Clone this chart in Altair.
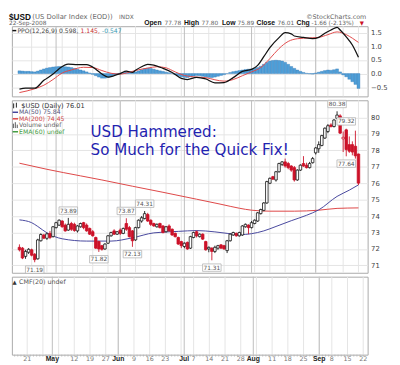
import altair as alt
import pandas as pd

# ---------------- data ----------------
opens = [72.10, 72.05, 71.55, 71.80, 71.95, 71.68, 71.40, 72.50, 72.85, 72.65,
         72.95, 72.75, 73.30, 73.45, 73.70, 73.45, 73.15, 73.55, 73.50, 73.10,
         73.35, 73.60, 73.45, 73.25, 73.05, 72.70, 72.45, 72.20, 72.00, 72.35,
         72.80, 73.10, 72.90, 73.15, 72.95, 73.55, 73.30, 73.10, 72.55, 73.30,
         73.70, 73.85, 74.10, 73.75, 73.55, 73.35, 73.55, 73.40, 73.05, 73.40,
         73.20, 72.95, 72.70, 72.45, 72.15, 72.40, 72.05, 72.70, 73.05, 72.75,
         72.90, 72.45, 72.00, 72.05, 71.85, 72.05, 72.25, 72.20, 71.90, 72.50,
         72.85, 72.95, 72.80, 72.85, 73.35, 73.45, 73.30, 73.55, 73.70, 74.15,
         74.35, 74.80, 76.00, 76.40, 76.20, 76.70, 77.15, 77.30, 77.20, 77.05,
         76.95, 76.20, 76.80, 77.20, 77.10, 76.95, 77.25, 77.85, 78.10, 78.30,
         78.75, 79.15, 79.55, 79.45, 79.95, 80.10, 78.70, 79.25, 78.35, 78.35,
         78.25, 77.78]
highs = [72.28, 72.12, 71.95, 72.05, 72.02, 71.75, 72.62, 72.95, 72.92, 73.00,
         73.10, 73.40, 73.65, 73.80, 73.75, 73.55, 73.89, 73.65, 73.60, 73.45,
         73.60, 73.65, 73.55, 73.30, 73.15, 72.75, 72.50, 72.25, 72.35, 72.85,
         73.05, 73.20, 73.08, 73.25, 73.30, 73.87, 73.40, 73.15, 73.35, 73.80,
         74.00, 74.31, 74.20, 73.80, 73.60, 73.55, 73.60, 73.45, 73.40, 73.50,
         73.25, 73.00, 72.75, 72.50, 72.40, 72.45, 72.80, 73.05, 73.12, 72.95,
         72.95, 72.50, 72.15, 72.10, 72.20, 72.25, 72.30, 72.25, 72.55, 72.95,
         73.05, 73.00, 73.05, 73.45, 73.55, 73.50, 73.70, 73.80, 74.25, 74.45,
         74.85, 76.15, 76.35, 76.45, 76.75, 77.25, 77.35, 77.50, 77.30, 77.10,
         77.05, 76.85, 77.15, 77.65, 77.25, 77.30, 77.60, 78.20, 78.55, 78.95,
         79.40, 79.60, 79.65, 79.90, 80.38, 80.20, 79.15, 79.32, 78.85, 78.55,
         79.20, 77.80]
lows = [71.85, 71.38, 71.40, 71.70, 71.55, 71.19, 71.35, 72.45, 72.60, 72.55,
        72.60, 72.70, 73.25, 73.40, 73.30, 73.05, 73.10, 73.10, 73.05, 73.00,
        73.30, 73.20, 73.05, 72.85, 72.75, 72.00, 71.82, 71.90, 71.95, 72.30,
        72.75, 72.85, 72.85, 72.85, 72.90, 73.10, 72.70, 72.13, 72.50, 73.25,
        73.60, 73.80, 73.65, 73.40, 73.35, 73.30, 73.25, 72.95, 73.00, 73.05,
        72.80, 72.70, 72.25, 72.05, 72.05, 71.95, 72.00, 72.65, 72.70, 72.70,
        72.55, 71.90, 71.80, 71.31, 71.75, 71.95, 72.00, 71.95, 71.75, 72.45,
        72.80, 72.75, 72.75, 72.80, 73.30, 72.90, 73.25, 73.50, 73.65, 74.10,
        74.30, 74.75, 75.95, 76.20, 76.10, 76.65, 77.05, 76.95, 76.85, 76.70,
        76.10, 76.15, 76.75, 77.00, 76.90, 76.90, 77.20, 77.75, 77.85, 78.25,
        78.70, 79.05, 79.40, 79.40, 79.90, 79.00, 77.90, 77.64, 77.85, 77.70,
        77.50, 75.89]
closes = [71.95, 71.45, 71.85, 71.98, 71.62, 71.35, 72.55, 72.88, 72.66, 72.92,
          72.70, 73.35, 73.60, 73.75, 73.35, 73.10, 73.50, 73.20, 73.12, 73.40,
          73.55, 73.30, 73.10, 72.90, 72.80, 72.05, 72.00, 71.98, 72.30, 72.80,
          73.00, 72.90, 73.05, 72.95, 73.25, 73.20, 72.75, 72.50, 73.30, 73.75,
          73.90, 74.15, 73.70, 73.50, 73.40, 73.50, 73.30, 73.00, 73.35, 73.10,
          72.85, 72.75, 72.30, 72.20, 72.35, 72.00, 72.75, 73.00, 72.80, 72.90,
          72.60, 71.95, 72.10, 71.85, 72.10, 72.20, 72.05, 72.00, 72.50, 72.90,
          73.00, 72.80, 73.00, 73.40, 73.50, 73.30, 73.60, 73.75, 74.20, 74.40,
          74.80, 76.10, 76.30, 76.25, 76.70, 77.20, 77.30, 77.05, 76.95, 76.80,
          76.20, 76.80, 77.10, 77.05, 76.95, 77.20, 77.50, 78.15, 78.35, 78.90,
          79.35, 79.50, 79.45, 79.85, 80.15, 79.05, 78.80, 78.05, 77.95, 77.90,
          77.67, 76.01]

ppo_hist = [0.10, 0.09, 0.08, 0.08, 0.07, 0.06, 0.09, 0.13, 0.17, 0.20,
            0.22, 0.24, 0.25, 0.26, 0.26, 0.25, 0.24, 0.22, 0.19, 0.16,
            0.13, 0.10, 0.06, 0.02, -0.03, -0.08, -0.13, -0.17, -0.17, -0.14,
            -0.09, -0.05, -0.02, 0.01, 0.04, 0.07, 0.05, 0.03, 0.06, 0.10,
            0.14, 0.18, 0.20, 0.19, 0.16, 0.13, 0.10, 0.08, 0.05, 0.03,
            0.00, -0.04, -0.08, -0.12, -0.14, -0.15, -0.12, -0.09, -0.07, -0.08,
            -0.10, -0.12, -0.14, -0.15, -0.13, -0.10, -0.07, -0.04, 0.00, 0.04,
            0.07, 0.09, 0.11, 0.13, 0.15, 0.16, 0.17, 0.19, 0.22, 0.27,
            0.34, 0.41, 0.46, 0.48, 0.49, 0.48, 0.46, 0.41, 0.34, 0.26,
            0.19, 0.13, 0.08, 0.04, 0.01, -0.01, -0.02, 0.02, 0.05, 0.08,
            0.11, 0.13, 0.12, 0.14, 0.17, 0.06, -0.05, -0.12, -0.21, -0.30,
            -0.40, -0.547]

ppo_i = [0, 2, 5, 8, 11, 13, 16, 19, 22, 25, 27, 29, 31, 33, 35, 37, 38, 40, 42, 44,
         47, 50, 53, 55, 58, 61, 64, 67, 70, 73, 76, 78, 80, 82, 85, 87, 89, 90, 93,
         96, 98, 100, 102, 104, 105, 107, 109, 111]
ppo_v = [-0.57, -0.54, -0.54, -0.25, -0.02, 0.18, 0.35, 0.33, 0.33, 0.16, -0.02, -0.13,
         -0.08, 0.00, 0.09, 0.04, 0.12, 0.25, 0.34, 0.31, 0.19, 0.04, -0.18, -0.22,
         -0.14, -0.20, -0.34, -0.33, -0.15, 0.08, 0.15, 0.30, 0.62, 0.95, 1.32, 1.50,
         1.46, 1.38, 1.33, 1.28, 1.33, 1.48, 1.60, 1.70, 1.60, 1.35, 1.05, 0.598]
sig_i = [0, 5, 8, 11, 14, 17, 21, 24, 27, 30, 33, 36, 39, 42, 45, 48, 51, 54, 58, 61,
         64, 67, 70, 73, 76, 79, 82, 85, 88, 91, 95, 98, 101, 104, 107, 109, 111]
sig_v = [-0.70, -0.56, -0.43, -0.22, 0.02, 0.13, 0.23, 0.22, 0.11, 0.01, -0.02, 0.05,
         0.14, 0.20, 0.25, 0.21, 0.06, -0.07, -0.13, -0.15, -0.23, -0.28, -0.22, -0.08,
         0.06, 0.22, 0.55, 0.92, 1.18, 1.28, 1.31, 1.33, 1.43, 1.53, 1.43, 1.30, 1.145]

ma50_i = [0, 4, 6, 9, 14, 22, 30, 37, 44, 52, 58, 64, 68, 72, 76, 80, 84, 89, 94, 98,
          104, 108, 111]
ma50_v = [73.77, 73.60, 73.37, 72.98, 72.62, 72.48, 72.48, 72.68, 72.98, 73.07, 73.12,
          73.04, 72.95, 72.87, 72.93, 73.10, 73.37, 73.72, 74.05, 74.38, 75.20, 75.58,
          75.90]
ma200_i = [0, 9, 20, 27, 37, 47, 58, 66, 72, 76, 82, 90, 98, 104, 111]
ma200_v = [77.22, 76.85, 76.45, 76.20, 75.82, 75.45, 75.03, 74.72, 74.48, 74.36, 74.30,
           74.30, 74.36, 74.47, 74.50]

week_idx = [4, 9, 14, 19, 24, 29, 33, 38, 43, 48, 53, 57, 62, 67, 72, 77, 82, 87, 92,
            97, 101, 106, 111]
month_idx = [12, 33, 54, 76, 97]
month_lbl = ["May", "Jun", "Jul", "Aug", "Sep"]
day_idx = [4, 19, 24, 29, 38, 43, 48, 57, 62, 67, 72, 82, 87, 92, 101, 106, 111]
day_lbl = ["21", "12", "19", "27", "9", "16", "23", "7", "14", "21", "28", "11", "18",
           "25", "8", "15", "22"]

ann_hi_i = [16, 35, 41, 104, 107]
ann_hi_v = [73.89, 73.87, 74.31, 80.38, 79.32]
ann_lo_i = [5, 26, 37, 63, 107]
ann_lo_v = [71.19, 71.82, 72.13, 71.31, 77.64]

# ---------------- tables ----------------
n = len(closes)
idx = list(range(n))
prev = [opens[0]] + closes[:-1]
candles = pd.DataFrame({"i": idx, "o": opens, "h": highs, "l": lows, "c": closes})
candles["dir"] = ["down" if c < p else "up" for c, p in zip(closes, prev)]

RED = "#cc1128"
FONT = "DejaVu Sans"
BOLD = "Liberation Sans"
W = 365

XS = alt.Scale(domain=[-0.87, 112.41], nice=False, zero=False)
PS = alt.Scale(domain=[-0.84, 1.74], nice=False, zero=False)
YS = alt.Scale(domain=[70.55, 81.05], nice=False, zero=False)

one = pd.DataFrame({"k": [0]})


def X():
    return alt.X("i:Q", scale=XS, axis=None)


def txt(s, x, y, size=6.5, color="#555", weight="normal", font=FONT, baseline="middle"):
    return alt.Chart(one).mark_text(text=s, align="left", baseline=baseline, fontSize=size,
                                    color=color, fontWeight=weight, font=font).encode(
        x=alt.value(x), y=alt.value(y))


def hline(x1, x2, y, color, width=1.5):
    return alt.Chart(one).mark_rule(color=color, strokeWidth=width).encode(
        x=alt.value(x1), x2=alt.value(x2), y=alt.value(y))


def vline(x, y1, y2, color, width=1.0):
    return alt.Chart(one).mark_rule(color=color, strokeWidth=width).encode(
        x=alt.value(x), y=alt.value(y1), y2=alt.value(y2))


def vgrid():
    wk = alt.Chart(pd.DataFrame({"i": week_idx})).mark_rule(color="#e4e4e4", strokeWidth=1).encode(x=X())
    mo = alt.Chart(pd.DataFrame({"i": month_idx})).mark_rule(color="#bdbdbd", strokeWidth=1).encode(x=X())
    return [wk, mo]


# ---------------- header (drawn above the PPO panel) ----------------
R1, R2 = -9.5, -2.8
header = [
    txt("$USD", -3, R1, size=8.5, color="#111", weight="bold", font=BOLD),
    txt("(US Dollar Index (EOD))", 21, R1, size=7, color="#666"),
    txt("INDX", 110, R1, size=6, color="#666"),
    txt("\u00a9StockCharts.com", 302, R1, size=6.5, color="#666"),
    txt("22-Sep-2008", -3, R2, size=6, color="#666"),
    txt("Open", 135.7, R2, size=7, color="#111", weight="bold", font=BOLD),
    txt("77.78", 156.5, R2, size=6, color="#666"),
    txt("High", 176.5, R2, size=7, color="#111", weight="bold", font=BOLD),
    txt("77.80", 194.5, R2, size=6, color="#666"),
    txt("Low", 215.5, R2, size=7, color="#111", weight="bold", font=BOLD),
    txt("75.89", 231.5, R2, size=6, color="#666"),
    txt("Close", 251, R2, size=7, color="#111", weight="bold", font=BOLD),
    txt("76.01", 272.5, R2, size=6, color="#666"),
    txt("Chg", 292, R2, size=7, color="#111", weight="bold", font=BOLD),
    txt("-1.66 (-2.13%)", 307.5, R2, size=6, color="#666"),
    txt("\u25bc", 357, R2, size=5.5, color=RED),
]

# ---------------- PPO panel ----------------
ppo_axis = alt.Axis(orient="right", values=[-0.5, 0, 0.5, 1.0, 1.5], format=".1f", title=None,
                    ticks=False, domain=False, labelPadding=3, grid=True)
hist_bars = alt.Chart(pd.DataFrame({"i": idx, "v": ppo_hist})).mark_bar(
    size=3.0, color="#4f9fd8", stroke="#2d74b3", strokeWidth=0.35).encode(
    x=X(), y=alt.Y("v:Q", scale=PS, axis=ppo_axis), y2=alt.datum(0))
sig_line = alt.Chart(pd.DataFrame({"i": sig_i, "v": sig_v})).mark_line(
    color="#e04848", strokeWidth=1, interpolate="monotone").encode(
    x=X(), y=alt.Y("v:Q", scale=PS, axis=ppo_axis))
ppo_line = alt.Chart(pd.DataFrame({"i": ppo_i, "v": ppo_v})).mark_line(
    color="#111", strokeWidth=1.3, interpolate="monotone").encode(
    x=X(), y=alt.Y("v:Q", scale=PS, axis=ppo_axis))
ppo = alt.layer(
    *vgrid(), hist_bars, sig_line, ppo_line,
    hline(0.5, 4.5, 4.5, "#111"),
    txt("PPO(12,26,9) 0.598,", 5.7, 4.5, size=6.2, color="#444"),
    txt("1.145,", 70.5, 4.5, size=6.2, color="#cc3333"),
    txt("-0.547", 92.5, 4.5, size=6.2, color="#3e9cb5"),
    *header,
).properties(width=W, height=72)

# ---------------- price panel ----------------
price_axis = alt.Axis(orient="right", values=list(range(71, 81)), title=None, ticks=False,
                      domain=False, labelPadding=3, grid=True)
dir_scale = alt.Scale(domain=["up", "down"], range=["#111111", RED])
ma200 = alt.Chart(pd.DataFrame({"i": ma200_i, "v": ma200_v})).mark_line(
    color="#dd4444", strokeWidth=1, interpolate="monotone").encode(
    x=X(), y=alt.Y("v:Q", scale=YS, axis=price_axis))
ma50 = alt.Chart(pd.DataFrame({"i": ma50_i, "v": ma50_v})).mark_line(
    color="#45459c", strokeWidth=1, interpolate="monotone").encode(
    x=X(), y=alt.Y("v:Q", scale=YS, axis=price_axis))
wicks = alt.Chart(candles).mark_rule(strokeWidth=0.9).encode(
    x=X(), y=alt.Y("l:Q", scale=YS, axis=price_axis), y2="h:Q",
    color=alt.Color("dir:N", scale=dir_scale, legend=None))
bodies = alt.Chart(candles).transform_calculate(
    bt="max(datum.o, datum.c)", bb="min(datum.o, datum.c)").mark_bar(
    size=2.6, strokeWidth=0.8).encode(
    x=X(), y=alt.Y("bt:Q", scale=YS, axis=price_axis), y2="bb:Q",
    fill=alt.condition("datum.c > datum.o", alt.value("white"),
                       alt.Color("dir:N", scale=dir_scale, legend=None)),
    stroke=alt.Stroke("dir:N", scale=dir_scale, legend=None))

box_path = "M-1,-0.4L1,-0.4L1,0.4L-1,0.4Z"


def ann(ii, vv, off):
    d = pd.DataFrame({"i": ii, "v": vv})
    box = alt.Chart(d).mark_point(shape=box_path, size=361, filled=True, fill="white",
                                  stroke="#b3b3b3", strokeWidth=0.8, opacity=1,
                                  yOffset=off).encode(
        x=X(), y=alt.Y("v:Q", scale=YS, axis=price_axis))
    lab = alt.Chart(d).mark_text(fontSize=6, font=FONT, color="#555", dy=off).encode(
        x=X(), y=alt.Y("v:Q", scale=YS, axis=price_axis),
        text=alt.Text("v:Q", format=".2f"))
    return [box, lab]


price = alt.layer(
    *vgrid(), ma200, ma50, wicks, bodies,
    *ann(ann_hi_i, ann_hi_v, -7.5), *ann(ann_lo_i, ann_lo_v, 7.5),
    vline(1.8, 3.2, 8.2, "#222"), vline(4.6, 2.5, 7.5, "#222"),
    txt("$USD (Daily) 76.01", 9.7, 5.5, size=6.8, color="#333"),
    hline(0.7, 6.3, 12.3, "#45459c"),
    txt("MA(50) 75.84", 7.3, 12.3, size=6.3, color="#55557a"),
    hline(0.7, 6.3, 19, "#dd4444"),
    txt("MA(200) 74.45", 7.3, 19, size=6.3, color="#d04a4a"),
    vline(1.5, 24, 28.5, "#555"), vline(3.5, 22.5, 28.5, "#555"), vline(5.5, 25, 28.5, "#555"),
    txt("Volume undef", 7.3, 25.7, size=6.3, color="#666"),
    hline(0.7, 6.3, 32.3, "#3f9a3f"),
    txt("EMA(60) undef", 7.3, 32.3, size=6.3, color="#3f9a3f"),
    txt("USD Hammered:", 80.7, 38, size=15.5, color="#1f23b0", baseline="alphabetic"),
    txt("So Much for the Quick Fix!", 80.7, 56.3, size=15.5, color="#1f23b0", baseline="alphabetic"),
).properties(width=W, height=177)

# ---------------- CMF panel + date axis ----------------
day_ticks = alt.Chart(candles).mark_rule(color="#b5b5b5", strokeWidth=0.8).encode(
    x=X(), y=alt.value(80), y2=alt.value(82))
x_month = alt.Chart(pd.DataFrame({"i": month_idx, "t": month_lbl})).mark_text(
    fontSize=7, font=BOLD, fontWeight="bold", color="#222", baseline="middle").encode(
    x=X(), y=alt.value(85), text="t:N")
x_day = alt.Chart(pd.DataFrame({"i": day_idx, "t": day_lbl})).mark_text(
    fontSize=6.5, font=FONT, color="#777", baseline="middle").encode(
    x=X(), y=alt.value(85), text="t:N")
cmf = alt.layer(
    *vgrid(), day_ticks,
    txt("\u25b2", 0.7, 5.3, size=5.5, color="#333"),
    txt("CMF(20) undef", 7.3, 5.3, size=6.5, color="#555"),
    x_month, x_day,
).properties(width=W, height=80)

chart = alt.vconcat(ppo, price, cmf, spacing=0).properties(
    padding={"left": 0, "top": 0, "right": 4, "bottom": 0}, background="white"
).configure_view(stroke="#a9a9a9", strokeWidth=1).configure_axis(
    labelFont=FONT, labelFontSize=7, labelColor="#444", gridColor="#e4e4e4", gridWidth=1)

chart.save("out.html", embed_options={"renderer": "svg", "actions": False})
